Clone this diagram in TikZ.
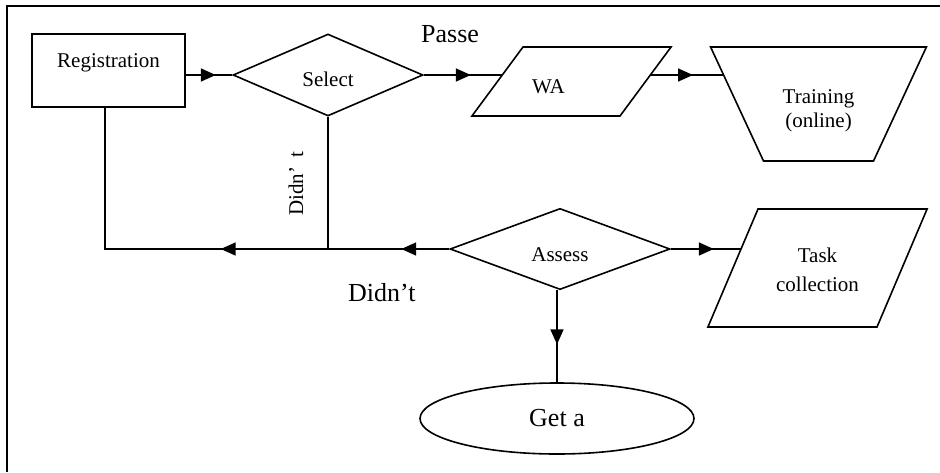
\documentclass[tikz,border=0pt]{standalone}
\usepackage{fontspec}
\setmainfont{Liberation Serif}
\usetikzlibrary{arrows.meta,shapes.geometric,decorations.markings,backgrounds}

\tikzset{
  flowline/.style={line width=1.6pt},
  boxtext/.style={font=\fontsize{21}{24}\selectfont},
  bigtext/.style={font=\fontsize{26}{30}\selectfont},
  flowbox/.style={flowline, draw, fill=white, boxtext, inner sep=0pt},
  % body size comes from the text box, the slant from the angles
  slantbox/.style={flowbox, trapezium, minimum width=0pt, minimum height=0pt},
  arrowat/.style={postaction={decorate, decoration={markings,
    mark=at position #1 with {\arrow{Triangle[length=15pt,width=13pt]}}}}},
}

\begin{document}
\begin{tikzpicture}[x=1pt,y=-1pt]
  \useasboundingbox (0,0) rectangle (940,472);
  \draw[flowline] (7,472) -- (7,6) -- (940,6);

  % upper row
  \node[flowbox, rectangle, minimum width=153pt, minimum height=73pt,
    text height=14pt, text depth=21pt] (reg) at (108.5,70.5) {Registration};
  \node[flowbox, diamond, minimum width=190pt, minimum height=82pt,
    text height=22pt, text depth=0pt] (sel) at (328,75) {Select};
  \node[slantbox, trapezium left angle=53.5, trapezium right angle=126.5,
    text width=97pt, text height=46pt, text depth=23pt, align=left]
    (wa) at (571.5,81.5) {\hspace*{9pt}WA};
  \node[slantbox, trapezium left angle=114.9, trapezium right angle=114.9,
    text width=110pt, text height=56pt, text depth=58pt, align=center]
    (trn) at (818.5,104) {Training\\(online)};

  % lower row
  \node[flowbox, diamond, minimum width=220pt, minimum height=80pt,
    text height=24pt, text depth=0pt] (ass) at (560,249) {Assess};
  \node[slantbox, trapezium left angle=67, trapezium right angle=113,
    text width=119pt, text height=53pt, text depth=65pt, align=center,
    font=\fontsize{21}{29}\selectfont] (task) at (817.5,268) {Task\\collection};
  \node[flowbox, ellipse, minimum width=274pt, minimum height=71pt,
    bigtext] (get) at (557,418.5) {Get a};

  % labels
  \node[bigtext, anchor=base west, inner sep=0pt] (passe) at (421,42) {Passe};
  \node[bigtext, anchor=base west, inner sep=0pt] (didnt) at (348,301) {Didn't};
  \node[boxtext, anchor=base west, inner sep=0pt, rotate=90]
    (didnt2) at (303,216) {Didn'\hspace{0.45em}t};

  % connectors, tucked under the white shapes
  \begin{scope}[on background layer]
    \draw[flowline, arrowat=30pt] (reg.east |- sel.west) -- (sel.west);
    \draw[flowline, arrowat=47pt] (sel.east) -- (wa.center |- sel.east);
    \draw[flowline, arrowat=121.5pt] (wa.center |- sel.east) -- (trn.center |- sel.east);
    \draw[flowline, arrowat=43pt] (ass.east) -- (task.center |- ass.east);
    \draw[flowline, arrowat=54pt] (get.north |- ass.south) -- (get.north);
    \draw[flowline, arrowat=48pt, arrowat=228.5pt]
      (ass.west) -- ([xshift=-3.5pt]reg.south |- ass.west) -- ([xshift=-3.5pt]reg.south);
    \draw[flowline] (sel.south) -- (sel.south |- ass.west);
  \end{scope}
\end{tikzpicture}
\end{document}
